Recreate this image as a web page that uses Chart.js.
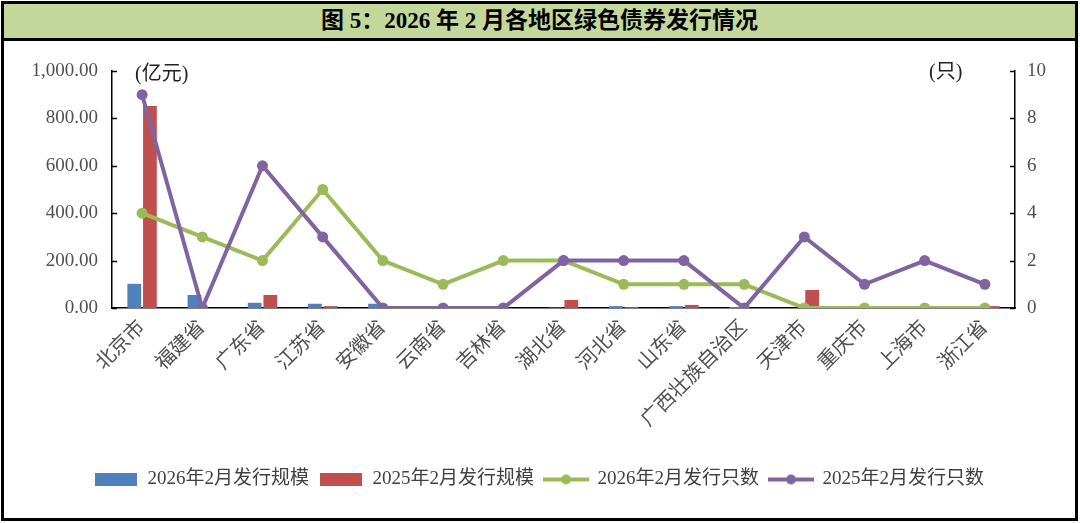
<!DOCTYPE html>
<html>
<head>
<meta charset="utf-8">
<script src="https://cdn.jsdelivr.net/npm/chart.js@4.4.1/dist/chart.umd.min.js"></script>
<style>
  html, body { margin: 0; padding: 0; background: #fff; width: 1080px; height: 523px; overflow: hidden; }
  #frame { position: absolute; left: 1px; top: 1px; width: 1077px; height: 520px; border: 3px solid #000; box-sizing: border-box; }
  #title { position: absolute; left: 0; top: 0; width: 100%; height: 34px; background: #c4d79b; border-bottom: 3px solid #000;
           font-family: 'Liberation Serif', 'Noto Sans CJK SC', serif; font-weight: bold; font-size: 23px; line-height: 34px; text-align: center; color: #000; }
  #wrap { position: absolute; left: 3px; top: 37px; width: 1072px; height: 480px; }
</style>
</head>
<body>
<div id="frame">
  <div id="title">图 5：2026 年 2 月各地区绿色债券发行情况</div>
</div>
<div id="wrap"><canvas id="c" width="1072" height="480"></canvas></div>
<script>
const categories = ['北京市','福建省','广东省','江苏省','安徽省','云南省','吉林省','湖北省','河北省','山东省','广西壮族自治区','天津市','重庆市','上海市','浙江省'];
const scale2026 = [102, 55, 22, 18, 18, 0, 0, 2, 8, 8, 4, 0, 0, 0, 0];
const scale2025 = [852, 0, 55, 8, 0, 0, 0, 34, 4, 13, 0, 76, 6, 0, 8];
const count2026 = [4, 3, 2, 5, 2, 1, 2, 2, 1, 1, 1, 0, 0, 0, 0];
const count2025 = [9, 0, 6, 3, 0, 0, 0, 2, 2, 2, 0, 3, 1, 2, 1];
const seriesNames = ['2026年2月发行规模','2025年2月发行规模','2026年2月发行只数','2025年2月发行只数'];
const leftTicks = [0, 200, 400, 600, 800, 1000];
const rightTicks = [0, 2, 4, 6, 8, 10];
const unitLeft = '(亿元)';
const unitRight = '(只)';

const C_BLUE = '#4f81bd', C_RED = '#c0504d', C_GREEN = '#9bbb59', C_PURPLE = '#8064a2';
const FONT = "'Liberation Serif', 'Noto Sans CJK SC', serif";
Chart.defaults.font.family = FONT;
Chart.defaults.color = '#505050';

function boxImg(color) {
  const c = document.createElement('canvas'); c.width = 42; c.height = 13;
  const x = c.getContext('2d'); x.fillStyle = color; x.fillRect(0, 0, 42, 13); return c;
}
function lineImg(color) {
  const c = document.createElement('canvas'); c.width = 46; c.height = 12;
  const x = c.getContext('2d'); x.strokeStyle = color; x.lineWidth = 4;
  x.beginPath(); x.moveTo(0, 6); x.lineTo(46, 6); x.stroke();
  x.fillStyle = color; x.beginPath(); x.arc(23, 6, 5, 0, Math.PI * 2); x.fill(); return c;
}
const legendImgs = [boxImg(C_BLUE), boxImg(C_RED), lineImg(C_GREEN), lineImg(C_PURPLE)];

const extras = {
  id: 'extras',
  afterDraw(chart) {
    const ctx = chart.ctx, a = chart.chartArea;
    const yL = chart.scales.y, yR = chart.scales.y1;
    ctx.save();
    ctx.strokeStyle = '#000'; ctx.lineWidth = 1.5;
    leftTicks.forEach(v => { const p = Math.round(yL.getPixelForValue(v)) + 0.5; ctx.beginPath(); ctx.moveTo(a.left, p); ctx.lineTo(a.left + 5, p); ctx.stroke(); });
    rightTicks.forEach(v => { const p = Math.round(yR.getPixelForValue(v)) + 0.5; ctx.beginPath(); ctx.moveTo(a.right, p); ctx.lineTo(a.right - 5, p); ctx.stroke(); });
    ctx.fillStyle = '#222'; ctx.font = "20px " + FONT; ctx.textBaseline = 'middle'; ctx.textAlign = 'left';
    ctx.fillText(unitLeft, a.left + 23, a.top + 4);
    ctx.fillText(unitRight, a.right - 86, a.top + 2);
    ctx.restore();
  }
};

new Chart(document.getElementById('c'), {
  type: 'bar',
  data: {
    labels: categories,
    datasets: [
      { type: 'bar', label: seriesNames[0], data: scale2026, backgroundColor: C_BLUE, yAxisID: 'y', order: 2, categoryPercentage: 0.52, barPercentage: 0.88 },
      { type: 'bar', label: seriesNames[1], data: scale2025, backgroundColor: C_RED, yAxisID: 'y', order: 2, categoryPercentage: 0.52, barPercentage: 0.88 },
      { type: 'line', label: seriesNames[2], data: count2026, borderColor: C_GREEN, backgroundColor: C_GREEN, borderWidth: 4, pointRadius: 5.5, pointBorderWidth: 0, pointHoverRadius: 5.5, yAxisID: 'y1', order: 1, tension: 0 },
      { type: 'line', label: seriesNames[3], data: count2025, borderColor: C_PURPLE, backgroundColor: C_PURPLE, borderWidth: 4, pointRadius: 5.5, pointBorderWidth: 0, pointHoverRadius: 5.5, yAxisID: 'y1', order: 0, tension: 0 }
    ]
  },
  options: {
    responsive: false,
    animation: false,
    layout: { padding: { top: 34, bottom: 18, left: 0, right: 0 } },
    plugins: {
      tooltip: { enabled: false },
      legend: {
        position: 'bottom',
        labels: {
          usePointStyle: true,
          pointStyleWidth: 44,
          padding: 10,
          color: '#404040',
          font: { size: 19, family: FONT },
          generateLabels(chart) {
            const items = Chart.defaults.plugins.legend.labels.generateLabels(chart);
            items.forEach(it => { it.pointStyle = legendImgs[it.datasetIndex]; });
            items.sort((p, q) => p.datasetIndex - q.datasetIndex);
            return items;
          }
        }
      }
    },
    scales: {
      x: {
        grid: { display: false, drawTicks: false },
        border: { display: true, color: '#000', width: 1.5 },
        ticks: { minRotation: 45, maxRotation: 45, padding: 8, color: '#505050', font: { size: 20 }, autoSkip: false },
        afterFit(s) { s.height = 152; }
      },
      y: {
        position: 'left', min: 0, max: 1000,
        afterBuildTicks(s) { s.ticks = leftTicks.map(v => ({ value: v })); },
        grid: { display: false, drawTicks: false },
        border: { display: true, color: '#000', width: 1.5 },
        ticks: { padding: 14, color: '#505050', font: { size: 19 },
          callback: v => Number(v).toLocaleString('en-US', { minimumFractionDigits: 2, maximumFractionDigits: 2 }) },
        afterFit(s) { s.width = 109; }
      },
      y1: {
        position: 'right', min: 0, max: 10,
        afterBuildTicks(s) { s.ticks = rightTicks.map(v => ({ value: v })); },
        grid: { display: false, drawTicks: false },
        border: { display: true, color: '#000', width: 1.5 },
        ticks: { padding: 12, color: '#505050', font: { size: 19 } },
        afterFit(s) { s.width = 60; }
      }
    }
  },
  plugins: [extras]
});
</script>
</body>
</html>
